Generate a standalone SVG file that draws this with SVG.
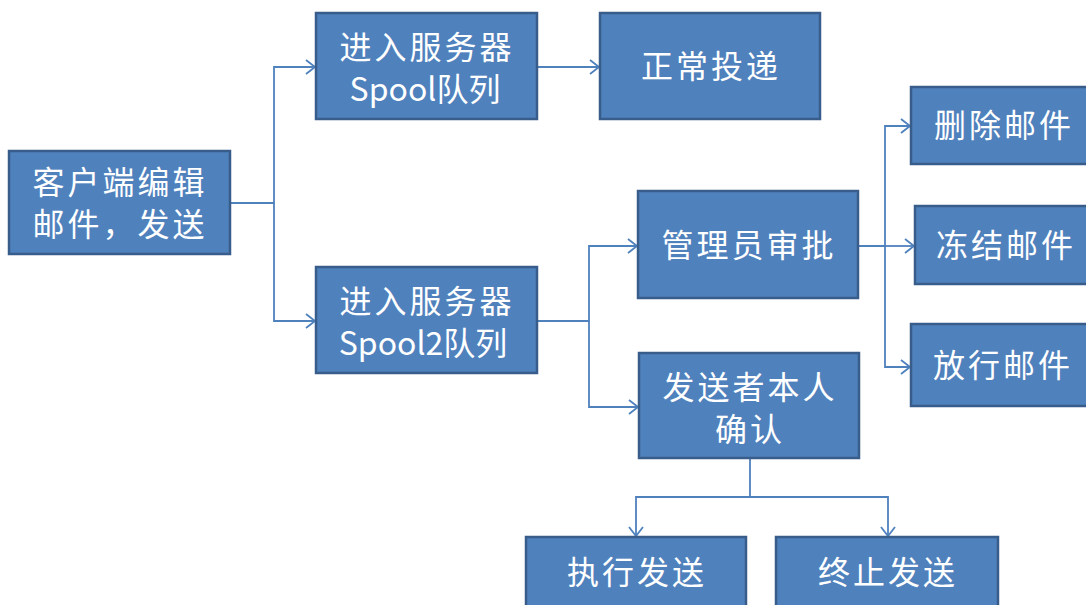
<svg xmlns="http://www.w3.org/2000/svg" width="1086" height="605" viewBox="0 0 1086 605">
<style>
.box{fill:#4F81BD;stroke:#385D8A;stroke-width:2.5}
.t{fill:#fff;font-family:"Noto Sans CJK SC","Noto Sans",sans-serif;font-size:32px;letter-spacing:3px;text-anchor:middle}
.l{letter-spacing:0}
.c{fill:none;stroke:#4F81BD;stroke-width:1.8}
</style>
<defs>
<marker id="ar" markerUnits="userSpaceOnUse" markerWidth="14" markerHeight="16" refX="11" refY="8" orient="auto">
<path d="M2,1 L11,8 L2,15" fill="none" stroke="#4F81BD" stroke-width="1.8"/>
</marker>
</defs>
<rect width="1086" height="605" fill="#fff"/>
<g id="connectors">
<path class="c" d="M230,203 H274 V67 H315" marker-end="url(#ar)"/>
<path class="c" d="M274,203 V321 H315" marker-end="url(#ar)"/>
<path class="c" d="M537,67 H599" marker-end="url(#ar)"/>
<path class="c" d="M537,321 H589 V246 H637" marker-end="url(#ar)"/>
<path class="c" d="M589,321 V407 H638" marker-end="url(#ar)"/>
<path class="c" d="M858,246 H885 V126 H910" marker-end="url(#ar)"/>
<path class="c" d="M885,246 H914" marker-end="url(#ar)"/>
<path class="c" d="M885,246 V367 H910" marker-end="url(#ar)"/>
<path class="c" d="M750,458 V497 H636 V536" marker-end="url(#ar)"/>
<path class="c" d="M750,497 H888 V536" marker-end="url(#ar)"/>
</g>
<g id="client">
<rect class="box" x="9" y="151" width="221" height="103"/>
<text class="t" x="120" y="194">客户端编辑</text>
<text class="t" x="120" y="236">邮件，发送</text>
</g>
<g id="spool">
<rect class="box" x="316" y="13" width="221" height="106"/>
<text class="t" x="427" y="59">进入服务器</text>
<text class="t l" x="425" y="101">Spool队列</text>
</g>
<g id="spool2">
<rect class="box" x="316" y="267" width="221" height="106"/>
<text class="t" x="427" y="313">进入服务器</text>
<text class="t l" x="423" y="355">Spool2队列</text>
</g>
<g id="deliver">
<rect class="box" x="600" y="13" width="220" height="106"/>
<text class="t" x="711" y="78">正常投递</text>
</g>
<g id="admin">
<rect class="box" x="638" y="191" width="220" height="107"/>
<text class="t" x="749" y="257">管理员审批</text>
</g>
<g id="confirm">
<rect class="box" x="639" y="353" width="220" height="105"/>
<text class="t" x="750" y="399">发送者本人</text>
<text class="t" x="750" y="441">确认</text>
</g>
<g id="delete">
<rect class="box" x="911" y="87" width="190" height="77"/>
<text class="t" x="1004" y="137">删除邮件</text>
</g>
<g id="freeze">
<rect class="box" x="915" y="206" width="190" height="78"/>
<text class="t" x="1006" y="257">冻结邮件</text>
</g>
<g id="release">
<rect class="box" x="911" y="324" width="190" height="82"/>
<text class="t" x="1003" y="377">放行邮件</text>
</g>
<g id="execute">
<rect class="box" x="526" y="537" width="220" height="75"/>
<text class="t" x="637" y="584">执行发送</text>
</g>
<g id="abort">
<rect class="box" x="776" y="537" width="222" height="75"/>
<text class="t" x="888" y="584">终止发送</text>
</g>
</svg>
